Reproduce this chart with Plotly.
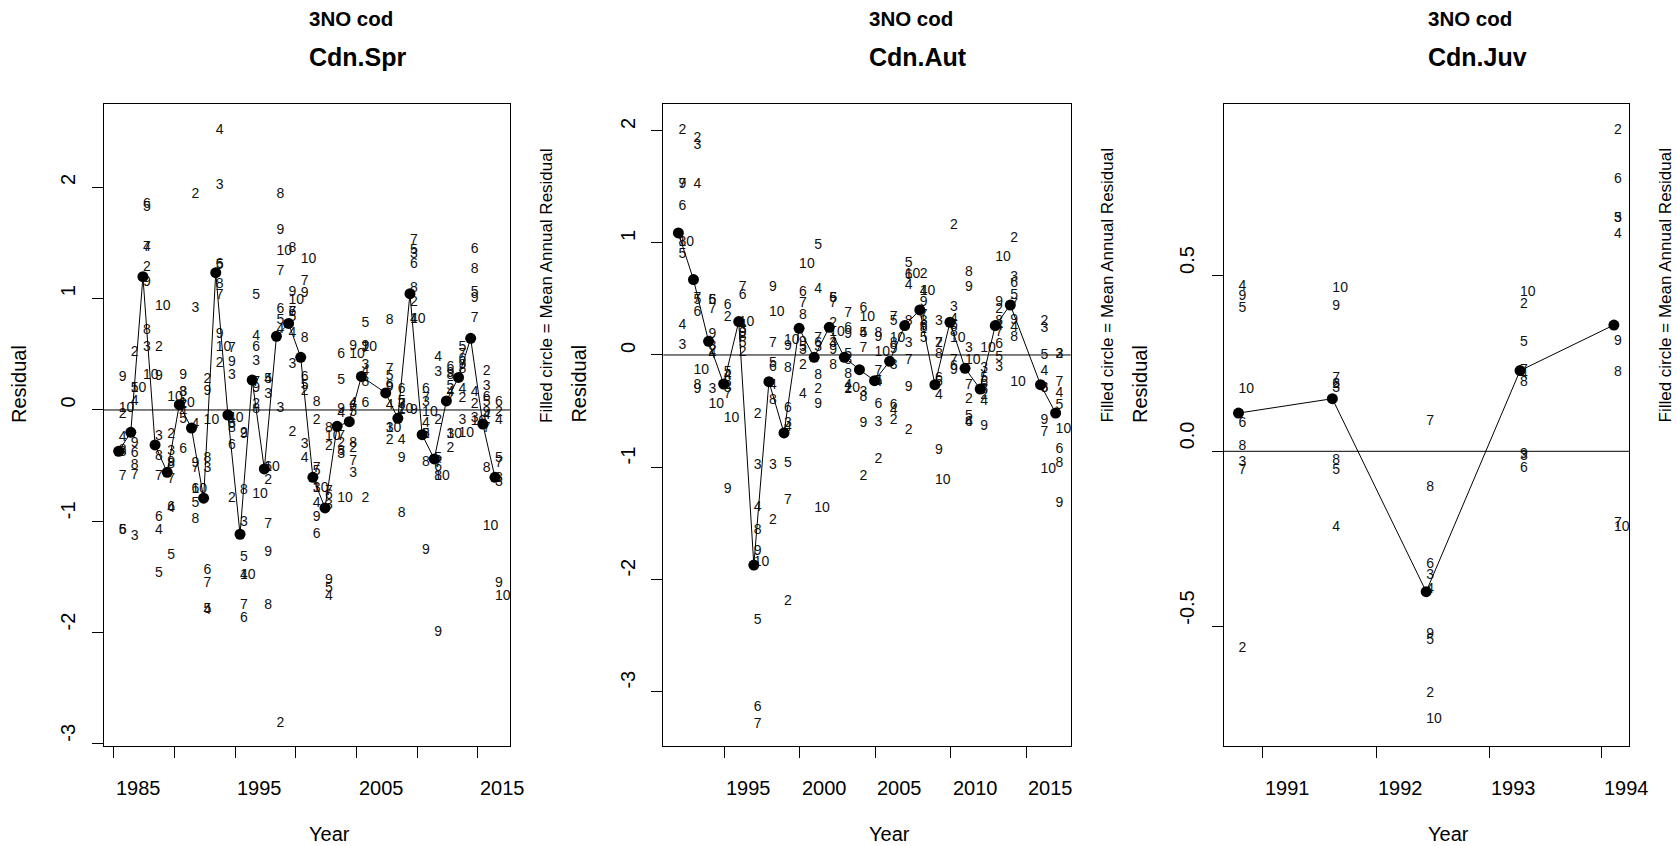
import plotly.graph_objects as go

W, H = 1677, 846
FONT = "Liberation Sans, Arial, Helvetica, sans-serif"

AGES = [2, 3, 4, 5, 6, 7, 8, 9, 10]

# ---- Canadian spring survey (rows = years, columns = ages 2..10) ----
spr_years = [1985, 1986, 1987, 1988, 1989, 1990, 1991, 1992, 1993, 1994,
             1995, 1996, 1997, 1998, 1999, 2000, 2001, 2002, 2003, 2004,
             2005, 2007, 2008, 2009, 2010, 2011, 2012, 2013, 2014, 2015, 2016]
spr_time = 0.40  # survey timing within the year
spr_resid = [
    [-0.045, -0.38, -0.246, -1.08, -1.085, -0.596, -0.36, 0.293, 0.01],
    [0.518, -1.135, 0.075, 0.195, -0.389, -0.59, -0.50, -0.305, 0.195],
    [1.281, 0.563, 1.46, 1.82, 1.85, 1.46, 0.713, 1.147, 0.314],
    [0.563, -0.237, -1.084, -1.473, -0.964, -0.596, -0.416, 0.302, 0.931],
    [-0.216, -0.374, -0.883, -1.308, -0.88, -0.629, -0.49, -0.47, 0.108],
    [0.05, 0.16, -0.02, -0.087, -0.359, 0.03, 0.16, 0.308, 0.054],
    [1.94, 0.913, -0.126, -0.844, -0.716, -0.53, -0.985, -0.485, -0.716],
    [0.278, -0.53, -1.80, -1.79, -1.44, -1.56, -0.44, 0.165, -0.096],
    [0.419, 2.021, 2.509, 1.30, 1.311, 1.027, 1.132, 0.677, 0.563],
    [-0.80, 0.308, -0.08, -0.126, -0.32, 0.554, -0.17, 0.428, -0.075],
    [-0.215, -1.009, -1.488, -1.323, -1.877, -1.757, -0.724, -0.22, -1.488],
    [0.05, 0.437, 0.662, 1.027, 0.563, 0.25, 0.0, 0.19, -0.763],
    [-0.635, 0.135, 0.278, 0.27, -0.52, -1.033, -1.757, -1.278, -0.52],
    [-2.82, 0.015, 0.727, 0.802, 0.901, 1.243, 1.94, 1.617, 1.422],
    [-0.201, 0.407, 0.683, 0.832, 0.877, 0.88, 1.452, 1.057, 0.988],
    [0.17, -0.314, -0.44, 0.22, 0.293, 1.153, 0.644, 1.05, 1.35],
    [-0.096, -0.71, -0.838, -0.55, -1.12, -0.53, 0.069, -0.964, -0.71],
    [-0.326, -0.86, -1.68, -1.60, -0.77, -0.73, -0.165, -1.53, -0.237],
    [-0.3, -0.4, -0.03, 0.269, 0.503, -0.237, -0.37, 0.0, -0.80],
    [-0.35, -0.575, 0.054, -0.02, 0.03, -0.464, -0.305, 0.572, 0.503],
    [-0.80, 0.398, 0.35, 0.781, 0.054, 0.55, 0.243, 0.572, 0.563],
    [-0.276, -0.17, 0.039, 0.302, 0.22, 0.368, 0.802, 0.2, -0.17],
    [-0.006, 0.05, -0.275, 0.08, 0.183, 0.05, -0.934, -0.44, 0.0],
    [0.967, 1.40, 0.817, 1.43, 1.311, 1.521, 1.093, -0.006, 0.817],
    [-0.22, 0.069, -0.117, -0.22, 0.183, 0.1, -0.47, -1.263, -0.027],
    [-0.096, 0.338, 0.473, -0.44, -0.52, -0.485, -0.595, -1.997, -0.595],
    [-0.35, -0.216, 0.16, 0.213, 0.383, 0.1, 0.31, 0.33, -0.22],
    [0.1, -0.096, 0.183, 0.563, 0.45, 0.5, 0.36, 0.40, -0.207],
    [0.05, -0.08, 0.159, 1.057, 1.446, 0.823, 1.266, 1.0, -0.10],
    [0.344, 0.213, -0.05, 0.07, 0.11, -0.17, -0.524, -0.02, -1.045],
    [-0.02, -0.65, -0.096, -0.434, 0.063, -0.485, -0.62, -1.56, -1.68],
]
spr_mean = [-0.371, -0.201, 1.198, -0.314, -0.560, 0.048, -0.162, -0.793,
            1.234, -0.045, -1.117, 0.269, -0.530, 0.662, 0.778, 0.473,
            -0.605, -0.880, -0.147, -0.105, 0.302, 0.153, -0.075, 1.045,
            -0.222, -0.440, 0.081, 0.293, 0.644, -0.126, -0.605]

# ---- Canadian autumn survey ----
aut_years = [1991, 1992, 1993, 1994, 1995, 1996, 1997, 1998, 1999, 2000,
             2001, 2002, 2003, 2004, 2005, 2006, 2007, 2008, 2009, 2010,
             2011, 2012, 2013, 2015, 2016]
aut_time = 0.95
aut_resid = [
    [2.003, 0.083, 0.262, 0.893, 1.327, 1.518, 1.006, 1.518, 1.006],
    [1.93, 1.87, 1.518, 0.485, 0.381, 0.5, -0.268, -0.31, -0.14],
    [0.04, -0.31, 0.0, 0.485, 0.485, 0.405, 0.08, 0.182, -0.446],
    [0.336, -0.3, -0.185, -0.155, 0.44, -0.35, -0.25, -1.205, -0.571],
    [0.02, 0.23, 0.26, 0.1, 0.53, 0.604, 0.16, 0.19, 0.292],
    [-0.527, -0.982, -1.36, -2.372, -3.146, -3.295, -1.568, -1.75, -1.85],
    [-1.479, -0.982, -0.274, -0.08, -0.11, 0.098, -0.408, 0.604, 0.381],
    [-2.202, -0.616, -0.65, -0.967, -0.482, -1.301, -0.119, 0.077, 0.13],
    [-0.095, 0.04, -0.357, 0.07, 0.56, 0.455, 0.351, 0.11, 0.804],
    [-0.304, 0.07, 0.583, 0.976, 0.1, 0.143, -0.179, -0.438, -1.37],
    [0.277, 0.1, 0.098, 0.5, 0.5, 0.455, -0.095, 0.039, 0.202],
    [-0.304, -0.05, -0.274, 0.0, 0.232, 0.366, -0.17, 0.179, -0.3],
    [-1.083, -0.333, 0.188, 0.188, 0.411, 0.06, -0.378, -0.616, 0.336],
    [-0.934, -0.607, -0.25, -0.24, -0.438, -0.149, 0.188, 0.158, 0.024],
    [-0.586, -0.095, -0.5, 0.3, -0.452, 0.336, 0.1, 0.05, 0.15],
    [-0.676, 0.098, 0.619, 0.813, 0.708, -0.051, 0.3, -0.289, 0.717],
    [0.717, 0.3, 0.565, 0.143, 0.25, 0.35, 0.232, 0.47, 0.565],
    [0.098, 0.3, -0.363, -0.25, -0.214, 0.098, 0.0, -0.854, -1.116],
    [1.155, 0.426, 0.321, 0.262, -0.1, -0.05, 0.2, -0.14, 0.15],
    [-0.393, 0.054, -0.6, -0.55, -0.6, -0.274, 0.738, 0.604, -0.05],
    [-0.36, -0.125, -0.417, -0.214, -0.25, -0.32, -0.304, -0.637, 0.054],
    [0.41, -0.11, 0.25, -0.02, 0.09, 0.2, 0.3, 0.47, 0.872],
    [1.036, 0.693, 0.247, 0.53, 0.634, 0.45, 0.158, 0.307, -0.244],
    [0.298, 0.232, -0.149, -0.006, -0.298, -0.696, -0.3, -0.586, -1.018],
    [0.0, 0.0, -0.348, -0.452, -0.845, -0.244, -0.973, -1.33, -0.661],
]
aut_mean = [1.089, 0.673, 0.122, -0.259, 0.298, -1.875, -0.238, -0.696,
            0.238, -0.021, 0.247, -0.021, -0.131, -0.229, -0.057, 0.262,
            0.402, -0.265, 0.292, -0.119, -0.304, 0.262, 0.446, -0.265,
            -0.518]

# ---- Canadian juvenile survey ----
juv_years = [1990, 1991, 1992, 1993, 1994]
juv_time = 0.68
juv_resid = [
    [-0.563, -0.032, 0.471, 0.407, 0.079, -0.055, 0.015, 0.442, 0.176],
    [0.19, 0.18, -0.218, -0.055, 0.19, 0.208, -0.026, 0.412, 0.463],
    [-0.69, -0.353, -0.394, -0.54, -0.324, 0.085, -0.102, -0.522, -0.765],
    [0.418, -0.016, 0.22, 0.311, -0.049, 0.229, 0.196, -0.01, 0.453],
    [0.915, 0.664, 0.617, 0.664, 0.775, -0.207, 0.225, 0.313, -0.218],
]
juv_mean = [0.109, 0.15, -0.40, 0.23, 0.36]

# ---- axis set-up for each panel ----
spr_xticks = [1985, 1990, 1995, 2000, 2005, 2010, 2015]
spr_xlabels = [1985, 1995, 2005, 2015]
aut_xticks = [1995, 2000, 2005, 2010, 2015]
aut_xlabels = [1995, 2000, 2005, 2010, 2015]
# the juvenile axis marks sit on their own spacing along the time scale
juv_xticks = [1990.94, 1992.15, 1993.35, 1994.55]
juv_xticktext = ["1991", "1992", "1993", "1994"]
res_yticks = [-3, -2, -1, 0, 1, 2]
juv_yticks = [-0.5, 0.0, 0.5]
juv_ylabels = ["-0.5", "0.0", "0.5"]

panels = [
    dict(name="Cdn.Spr", years=spr_years, t=spr_time, resid=spr_resid,
         mean=spr_mean, xrange=[1984.16, 2017.64], yrange=[-3.02, 2.75],
         xticks=spr_xticks, xlabpos=spr_xlabels,
         xlabtext=[str(v) for v in spr_xlabels], yticks=res_yticks,
         ylabels=[str(v) for v in res_yticks], px=(103.6, 510.0),
         ylab_x=68.0, ytitle_x=19.0, side_x=546.5),
    dict(name="Cdn.Aut", years=aut_years, t=aut_time, resid=aut_resid,
         mean=aut_mean, xrange=[1990.95, 2017.95], yrange=[-3.49, 2.24],
         xticks=aut_xticks, xlabpos=aut_xlabels,
         xlabtext=[str(v) for v in aut_xlabels], yticks=res_yticks,
         ylabels=[str(v) for v in res_yticks], px=(663.3, 1070.7),
         ylab_x=628.5, ytitle_x=578.6, side_x=1107.0),
    dict(name="Cdn.Juv", years=juv_years, t=juv_time, resid=juv_resid,
         mean=juv_mean, xrange=[1990.52, 1994.84], yrange=[-0.84, 0.99],
         xticks=juv_xticks, xlabpos=juv_xticks, xlabtext=juv_xticktext,
         yticks=juv_yticks, ylabels=juv_ylabels, px=(1223.5, 1628.9),
         ylab_x=1187.0, ytitle_x=1140.0, side_x=1665.0),
]

TOP, BOTTOM = 104.0, 746.0
ydom = [(H - BOTTOM) / H, (H - TOP) / H]
ymid = (H - (TOP + BOTTOM) / 2) / H

fig = go.Figure()
annotations = []
shapes = []
layout = {}

for k, p in enumerate(panels, start=1):
    xa = "x" if k == 1 else f"x{k}"
    ya = "y" if k == 1 else f"y{k}"
    xkey = "xaxis" if k == 1 else f"xaxis{k}"
    ykey = "yaxis" if k == 1 else f"yaxis{k}"
    xs = [yr + p["t"] for yr in p["years"]]

    # age-labelled residuals
    lx, ly, lt = [], [], []
    for x, row in zip(xs, p["resid"]):
        for age, v in zip(AGES, row):
            lx.append(x)
            ly.append(v)
            lt.append(str(age))
    fig.add_trace(go.Scatter(
        x=lx, y=ly, text=lt, mode="text", textposition="middle right",
        textfont=dict(family=FONT, size=14, color="#111111"),
        cliponaxis=False, showlegend=False, hoverinfo="skip",
        xaxis=xa, yaxis=ya))

    # mean annual residual
    fig.add_trace(go.Scatter(
        x=xs, y=p["mean"], mode="lines+markers",
        line=dict(color="black", width=1),
        marker=dict(color="black", size=11),
        showlegend=False, xaxis=xa, yaxis=ya))

    x0, x1 = p["px"]
    layout[xkey] = dict(
        domain=[x0 / W, x1 / W], range=p["xrange"], anchor=ya,
        tickvals=p["xticks"], showticklabels=False, ticks="outside",
        ticklen=11, tickcolor="black", tickwidth=1,
        showline=True, mirror=True, linecolor="black", linewidth=1,
        showgrid=False, zeroline=False, fixedrange=True)
    layout[ykey] = dict(
        domain=ydom, range=p["yrange"], anchor=xa,
        tickvals=p["yticks"], showticklabels=False, ticks="outside",
        ticklen=11, tickcolor="black", tickwidth=1,
        showline=True, mirror=True, linecolor="black", linewidth=1,
        showgrid=False, zeroline=False, fixedrange=True)

    # horizontal reference at zero
    shapes.append(dict(type="line", xref=f"{xa} domain", x0=0, x1=1,
                       yref=ya, y0=0, y1=0,
                       line=dict(color="black", width=1)))

    xc = (x0 + x1) / 2 / W
    # x tick labels
    for v, s in zip(p["xlabpos"], p["xlabtext"]):
        annotations.append(dict(
            x=v, y=(H - 788) / H, xref=xa, yref="paper", text=s,
            showarrow=False, xanchor="left", yanchor="middle",
            font=dict(family=FONT, size=20, color="black")))
    # y tick labels (rotated)
    for v, s in zip(p["yticks"], p["ylabels"]):
        annotations.append(dict(
            x=p["ylab_x"] / W, y=v, xref="paper", yref=ya, text=s,
            textangle=-90, showarrow=False, xanchor="center",
            yanchor="bottom",
            font=dict(family=FONT, size=20, color="black")))
    # titles
    annotations.append(dict(
        x=xc, y=(H - 19) / H, xref="paper", yref="paper", text="<b>3NO cod</b>",
        showarrow=False, xanchor="left", yanchor="middle",
        font=dict(family=FONT, size=20.5, color="black")))
    annotations.append(dict(
        x=xc, y=(H - 57) / H, xref="paper", yref="paper",
        text=f"<b>{p['name']}</b>", showarrow=False, xanchor="left",
        yanchor="middle", font=dict(family=FONT, size=25, color="black")))
    # axis titles
    annotations.append(dict(
        x=xc, y=(H - 834) / H, xref="paper", yref="paper", text="Year",
        showarrow=False, xanchor="left", yanchor="middle",
        font=dict(family=FONT, size=20, color="black")))
    annotations.append(dict(
        x=p["ytitle_x"] / W, y=ymid, xref="paper", yref="paper",
        text="Residual", textangle=-90, showarrow=False,
        xanchor="center", yanchor="bottom",
        font=dict(family=FONT, size=20, color="black")))
    annotations.append(dict(
        x=p["side_x"] / W, y=ymid, xref="paper", yref="paper",
        text="Filled circle = Mean Annual Residual", textangle=-90,
        showarrow=False, xanchor="center", yanchor="bottom",
        font=dict(family=FONT, size=17, color="black")))

fig.update_layout(
    width=W, height=H, autosize=False,
    margin=dict(l=0, r=0, t=0, b=0),
    paper_bgcolor="white", plot_bgcolor="white",
    font=dict(family=FONT, color="black"),
    annotations=annotations, shapes=shapes, **layout)

fig.write_html("out.html")
